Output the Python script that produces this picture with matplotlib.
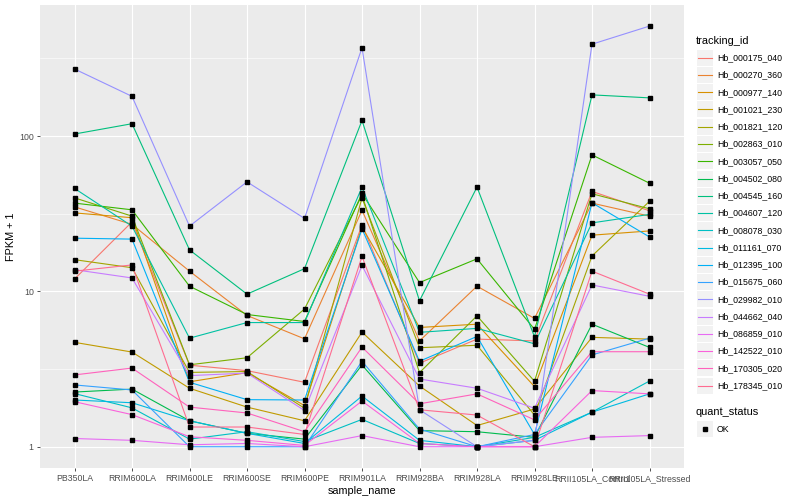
import matplotlib
matplotlib.use("Agg")
import matplotlib.pyplot as plt
from matplotlib.patches import Rectangle
from matplotlib.lines import Line2D
import numpy as np

plt.rcParams['font.family'] = ['Liberation Sans', 'DejaVu Sans']

samples = ["PB350LA", "RRIM600LA", "RRIM600LE", "RRIM600SE", "RRIM600PE",
           "RRIM901LA", "RRIM928BA", "RRIM928LA", "RRIM928LE",
           "RRII105LA_Control", "RRII105LA_Stressed"]

# FPKM + 1 per tracking id
hb_000175_040 = [12, 28, 3.35, 3.09, 2.6, 26.8, 3.45, 4.93, 4.8, 44, 33]
hb_000270_360 = [35, 27, 13.5, 7.0, 4.95, 33.3, 4.8, 10.8, 6.7, 37, 30.5]
hb_000977_140 = [32, 29.8, 2.62, 3.0, 1.84, 26, 5.86, 6.15, 2.44, 23, 24.5]
hb_001021_230 = [4.7, 4.07, 2.38, 1.8, 1.47, 5.47, 2.46, 1.37, 1.75, 5.06, 4.93]
hb_001821_120 = [16, 14.2, 3.01, 3.05, 1.77, 40, 4.34, 4.5, 1.6, 16.9, 38]
hb_002863_010 = [40, 30.5, 3.37, 3.74, 7.7, 41.6, 3.0, 6.96, 2.64, 42.5, 34]
hb_003057_050 = [37, 33.5, 10.8, 7.1, 6.4, 42.7, 11.4, 16.2, 5.7, 75.6, 49.7]
hb_004502_080 = [2.25, 2.35, 1.47, 1.22, 1.12, 3.36, 1.27, 1.25, 1.15, 6.15, 4.36]
hb_004545_160 = [103, 120, 18.5, 9.6, 14, 126, 8.7, 46.9, 5.1, 184, 176]
hb_004607_120 = [46, 26.3, 5.0, 6.3, 6.3, 46.9, 5.45, 5.78, 4.6, 27.6, 31.3]
hb_008078_030 = [2.2, 1.78, 1.12, 1.25, 1.08, 1.5, 1.05, 1.0, 1.15, 1.67, 2.65]
hb_011161_070 = [2.0, 1.92, 1.47, 1.22, 1.05, 2.12, 1.1, 1.0, 1.1, 1.67, 2.19]
hb_012395_100 = [22, 21.7, 2.6, 2.01, 2.0, 25.3, 3.55, 5.13, 1.2, 37.2, 22.4]
hb_015675_060 = [2.5, 2.32, 1.0, 1.0, 1.0, 3.55, 1.3, 1.0, 1.2, 3.9, 5.0]
hb_029982_010 = [270, 180, 26.3, 50.7, 29.5, 370, 1.73, 1.0, 1.1, 390, 510]
hb_044662_040 = [13.8, 12.2, 2.87, 2.98, 1.71, 14.7, 2.73, 2.38, 1.77, 11.0, 9.3]
hb_086859_010 = [1.13, 1.1, 1.03, 1.05, 1.0, 1.18, 1.0, 1.0, 1.0, 1.15, 1.18]
hb_142522_010 = [1.95, 1.61, 1.16, 1.1, 1.02, 1.97, 1.05, 1.0, 1.0, 2.3, 2.19]
hb_170305_020 = [2.9, 3.21, 1.8, 1.65, 1.25, 4.38, 1.89, 2.19, 1.49, 4.09, 4.09]
hb_178345_010 = [13.5, 14.8, 1.34, 1.34, 1.2, 16.8, 1.73, 1.6, 1.0, 13.5, 9.6]

tracking_ids = ["Hb_000175_040", "Hb_000270_360", "Hb_000977_140", "Hb_001021_230",
                "Hb_001821_120", "Hb_002863_010", "Hb_003057_050", "Hb_004502_080",
                "Hb_004545_160", "Hb_004607_120", "Hb_008078_030", "Hb_011161_070",
                "Hb_012395_100", "Hb_015675_060", "Hb_029982_010", "Hb_044662_040",
                "Hb_086859_010", "Hb_142522_010", "Hb_170305_020", "Hb_178345_010"]
series = [hb_000175_040, hb_000270_360, hb_000977_140, hb_001021_230, hb_001821_120,
          hb_002863_010, hb_003057_050, hb_004502_080, hb_004545_160, hb_004607_120,
          hb_008078_030, hb_011161_070, hb_012395_100, hb_015675_060, hb_029982_010,
          hb_044662_040, hb_086859_010, hb_142522_010, hb_170305_020, hb_178345_010]

# ggplot2 default hue palette for 20 levels
colors = ["#F8766D", "#EA8331", "#D89000", "#C09B00", "#A3A500", "#7CAE00", "#39B600",
          "#00BB4E", "#00BF7D", "#00C1A3", "#00BFC4", "#00BAE0", "#00B0F6", "#35A2FF",
          "#9590FF", "#C77CFF", "#E76BF3", "#FA62DB", "#FF62BC", "#FF6C91"]

W, H = 800, 500
fig = plt.figure(figsize=(W / 100, H / 100), dpi=100)
ax = fig.add_axes([40 / W, 32 / H, 644 / W, 463 / H])
ax.set_facecolor("#EBEBEB")
for s in ax.spines.values():
    s.set_visible(False)

x = np.arange(len(samples))
for vals, col in zip(series, colors):
    ax.plot(x, vals, color=col, lw=0.8, zorder=3)
for vals in series:
    ax.plot(x, vals, ls="none", marker="s", ms=2.3, color="black", zorder=4)

ax.set_yscale("log")
ax.set_ylim(0.73, 697)
ax.set_xlim(-0.6, len(samples) - 0.4)
ax.set_yticks([1, 10, 100])
ax.set_yticklabels(["1", "10", "100"])
ax.set_yticks([10 ** 0.5, 10 ** 1.5, 10 ** 2.5], minor=True)
ax.set_xticks(x)
ax.set_xticklabels(samples)
ax.set_axisbelow(True)
ax.grid(which="major", color="white", lw=0.8)
ax.grid(which="minor", axis="y", color="white", lw=0.4)
ax.tick_params(which="major", length=2.5, width=0.6, color="#333333",
               labelcolor="#4D4D4D", labelsize=6.3, pad=2)
ax.tick_params(which="minor", length=0)
ax.set_xlabel("sample_name", fontsize=7.8, labelpad=2)
ax.set_ylabel("FPKM + 1", fontsize=7.8)
ax.yaxis.set_label_coords(-0.037, 0.5)


def px(xp, yp):
    return xp / W, 1 - yp / H


# legend drawn the ggplot way
fig.text(*px(696, 41), "tracking_id", fontsize=7.9, va="center", ha="left")
row0, step = 57.7, 17.26
for i, (tid, col) in enumerate(zip(tracking_ids, colors)):
    yc = row0 + i * step
    bx, by = px(697, yc + 8)
    fig.add_artist(Rectangle((bx, by), 16 / W, 16 / H, transform=fig.transFigure,
                             facecolor="#F2F2F2", edgecolor="none"))
    fig.add_artist(Line2D([698 / W, 712 / W], [1 - yc / H] * 2, transform=fig.transFigure,
                          color=col, lw=0.8))
    fig.text(*px(717, yc), tid, fontsize=6.3, va="center", ha="left")

fig.text(*px(696, 412), "quant_status", fontsize=7.9, va="center", ha="left")
bx, by = px(697, 437)
fig.add_artist(Rectangle((bx, by), 16 / W, 16 / H, transform=fig.transFigure,
                         facecolor="#F2F2F2", edgecolor="none"))
fig.add_artist(Line2D([705 / W], [1 - 429 / H], transform=fig.transFigure,
                      ls="none", marker="s", ms=2.3, color="black"))
fig.text(*px(717, 429), "OK", fontsize=6.3, va="center", ha="left")

fig.savefig("out.png", dpi=100)
